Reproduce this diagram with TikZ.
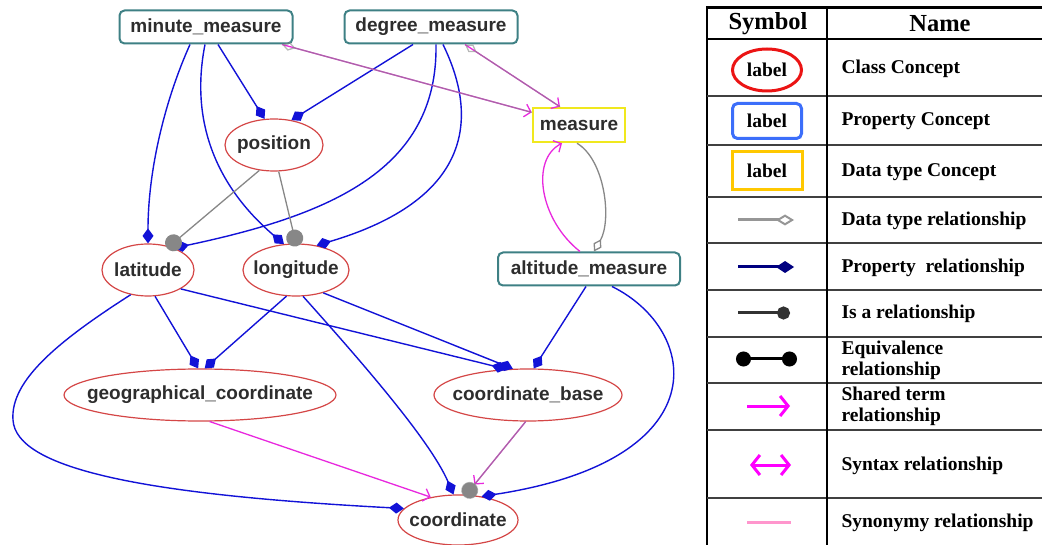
\documentclass[tikz,border=0pt]{standalone}
\usepackage{fontspec}
\setmainfont{Liberation Serif}
\newfontfamily\graphfont{Liberation Sans}
\usetikzlibrary{shapes.geometric,arrows.meta}

\definecolor{propblue}{RGB}{18,18,215}
\definecolor{clsred}{RGB}{212,70,70}
\definecolor{prpteal}{RGB}{62,128,132}
\definecolor{dtyellow}{RGB}{240,232,30}
\definecolor{isagray}{RGB}{135,135,135}
\definecolor{shmag}{RGB}{232,40,222}
\definecolor{txtgray}{RGB}{45,45,45}
\definecolor{lgred}{RGB}{235,20,20}
\definecolor{lgblue}{RGB}{60,110,250}
\definecolor{lggold}{RGB}{255,200,0}
\definecolor{lggray}{RGB}{150,150,150}
\definecolor{lgnavy}{RGB}{0,0,128}
\definecolor{lgdark}{RGB}{50,50,50}
\definecolor{lgmag}{RGB}{255,0,255}
\definecolor{lgpink}{RGB}{255,150,205}

\newcommand{\gfont}{\graphfont\bfseries\fontsize{19}{22}\selectfont}
\newcommand{\lgfont}{\bfseries\fontsize{19.5}{21}\selectfont}

\tikzset{
  cls/.style={ellipse, draw=clsred, line width=1.2pt, inner sep=0pt, minimum height=52pt, text=txtgray, font=\gfont},
  prp/.style={rectangle, rounded corners=5pt, draw=prpteal, line width=2pt, inner sep=0pt, minimum width=173pt, minimum height=33pt, text=txtgray, font=\gfont},
  dtp/.style={rectangle, draw=dtyellow, line width=2.5pt, inner sep=0pt, minimum width=92pt, minimum height=34pt, text=txtgray, font=\gfont},
  hasprop/.style={draw=propblue, line width=1.4pt, -{Diamond[length=15pt,width=11pt]}},
  isa/.style={draw=isagray, line width=1.3pt, shorten >=-3pt, -{Circle[length=17pt]}},
  dtype/.style={draw=isagray, line width=1.3pt, -{Diamond[open,length=14pt,width=9pt]}},
  shared/.style={draw=shmag, line width=1.3pt, -{Straight Barb[length=6pt,width=13pt]}},
  lgtext/.style={anchor=west, align=left, font=\lgfont},
  hdr/.style={font=\bfseries\fontsize{24.5}{26}\selectfont}
}

\begin{document}
\begin{tikzpicture}[x=1pt,y=-1pt]

\useasboundingbox (0,0) rectangle (1042,545);

\node[prp] (mm) at (206,27) {minute\_measure};
\node[prp] (dm) at (431,27) {degree\_measure};
\node[dtp] (meas) at (579,125) {measure};
\node[cls, minimum width=98pt] (pos) at (274,145) {\makebox[0pt]{position}};
\node[cls, minimum width=92pt] (lat) at (148,270) {\makebox[0pt]{latitude}};
\node[cls, minimum width=106pt] (lon) at (296,270) {\makebox[0pt]{longitude}};
\node[prp, minimum width=182pt] (alt) at (589,269) {altitude\_measure};
\node[cls, minimum width=272pt] (geo) at (200,395) {\makebox[0pt]{geographical\_coordinate}};
\node[cls, minimum width=188pt] (cb) at (528,395) {\makebox[0pt]{coordinate\_base}};
\node[cls, minimum width=120pt, minimum height=50pt] (coord) at (458,520) {\makebox[0pt]{coordinate}};

\draw[hasprop] ([xshift=-16pt]mm.south) .. controls (165,100) and (148,170) .. (lat.north);
\draw[hasprop] ([xshift=12pt]mm.south) -- (pos.110);
\draw[hasprop] ([xshift=-1pt]mm.south) .. controls (190,120) and (215,185) .. (lon.115);
\draw[hasprop] ([xshift=-18pt]dm.south) -- (pos.55);
\draw[hasprop] ([xshift=5pt]dm.south) .. controls (438,170) and (330,215) .. (lat.40);
\draw[hasprop] ([xshift=12pt]dm.south) .. controls (480,120) and (470,200) .. (lon.50);
\draw[hasprop] (lat.-75) -- (geo.94);
\draw[hasprop] (lon.-110) -- (geo.80);
\draw[hasprop] (lat.-30) -- (cb.130);
\draw[hasprop] (lon.-40) -- (cb.120);
\draw[hasprop] (lon.-75) .. controls (360,360) and (430,440) .. (coord.100);
\draw[hasprop] (lat.-125) .. controls (60,340) and (10,380) .. (13,420) .. controls (16,470) and (150,495) .. (coord.168);
\draw[hasprop] ([xshift=-3pt]alt.south) -- (cb.78);
\draw[hasprop] ([xshift=23pt]alt.south) .. controls (700,330) and (720,460) .. (coord.45);

\draw[isa] (pos.-120) -- (lat.48);
\draw[isa] (pos.-80) -- (lon.north);

\draw[shared] ([xshift=76pt]mm.south) -- (meas.165);
\draw[dtype, draw opacity=0.6] (meas.165) -- ([xshift=76pt]mm.south);
\draw[shared] ([xshift=34pt]dm.south) -- ([xshift=-19pt]meas.north);
\draw[dtype, draw opacity=0.6] ([xshift=-19pt]meas.north) -- ([xshift=34pt]dm.south);
\draw[shared] ([xshift=-9pt]alt.north) .. controls (540,220) and (530,160) .. ([xshift=-17pt]meas.south);
\draw[dtype] ([xshift=-2pt]meas.south) .. controls (605,160) and (612,220) .. ([xshift=5pt]alt.north);
\draw[shared] (geo.-70) -- (coord.140);
\draw[shared, shorten >=13pt] (cb.-95) -- (coord.72);
\draw[isa, draw opacity=0.6] (cb.-95) -- (coord.72);

\draw[line width=2pt] (707,8) -- (707,545);
\draw[line width=3pt] (706,8) -- (1042,8);
\draw[line width=2pt] (707,39) -- (1042,39);
\foreach \y in {96,145,197,243,290,337,383,430,498}
  \draw[line width=1.2pt, black!75] (707,\y) -- (1042,\y);
\draw[line width=1.2pt] (827,8) -- (827,545);

\node[hdr] (hsym) at (768,24) {Symbol};
\node[hdr] (hname) at (940,24) {Name};

\node[ellipse, draw=lgred, line width=3pt, inner sep=0pt, minimum width=69pt, minimum height=42pt, font=\lgfont] (sclass) at (767,70) {\makebox[0pt]{label}};
\node[rectangle, rounded corners=5pt, draw=lgblue, line width=3pt, minimum width=69pt, minimum height=35pt, font=\lgfont] (sprop) at (767,121) {label};
\node[rectangle, draw=lggold, line width=3pt, minimum width=70pt, minimum height=38pt, font=\lgfont] (sdata) at (767,171) {label};

\coordinate (dta) at (738,220);
\coordinate (dtb) at (794,220);
\draw[lggray, line width=3pt, -{Diamond[open,length=18pt,width=11pt,line width=2pt]}] (dta) -- (dtb);
\coordinate (pra) at (738,267);
\coordinate (prb) at (794,267);
\draw[lgnavy, line width=3pt, -{Diamond[length=18pt,width=12pt]}] (pra) -- (prb);
\coordinate (isa1) at (738,313);
\coordinate (isb1) at (790,313);
\draw[lgdark, line width=3pt, -{Circle[length=13pt]}] (isa1) -- (isb1);
\coordinate (eqa) at (736,359);
\coordinate (eqb) at (797,359);
\draw[black, line width=3pt, {Circle[length=15pt]}-{Circle[length=15pt]}] (eqa) -- (eqb);
\coordinate (sha) at (747,406);
\coordinate (shb) at (790,406);
\draw[lgmag, line width=3pt, -{Straight Barb[length=8pt,width=20pt]}] (sha) -- (shb);
\coordinate (sya) at (750,465);
\coordinate (syb) at (791,465);
\draw[lgmag, line width=3pt, {Straight Barb[length=8pt,width=20pt]}-{Straight Barb[length=8pt,width=20pt]}] (sya) -- (syb);
\coordinate (sna) at (747,522);
\coordinate (snb) at (791,522);
\draw[lgpink, line width=3pt] (sna) -- (snb);

\node[lgtext] (nclass) at (838,69) {Class Concept};
\node[lgtext] (nprop) at (838,121) {Property Concept};
\node[lgtext] (ndata) at (838,172) {Data type Concept};
\node[lgtext] (ndtrel) at (838,221) {Data type relationship};
\node[lgtext] (nprrel) at (838,268) {Property\ \ relationship};
\node[lgtext] (nisa) at (838,314) {Is a relationship};
\node[lgtext] (neq) at (838,360) {Equivalence\\relationship};
\node[lgtext] (nsh) at (838,406) {Shared term\\relationship};
\node[lgtext] (nsyn) at (838,466) {Syntax relationship};
\node[lgtext] (nsyno) at (838,523) {Synonymy relationship};

\end{tikzpicture}
\end{document}
